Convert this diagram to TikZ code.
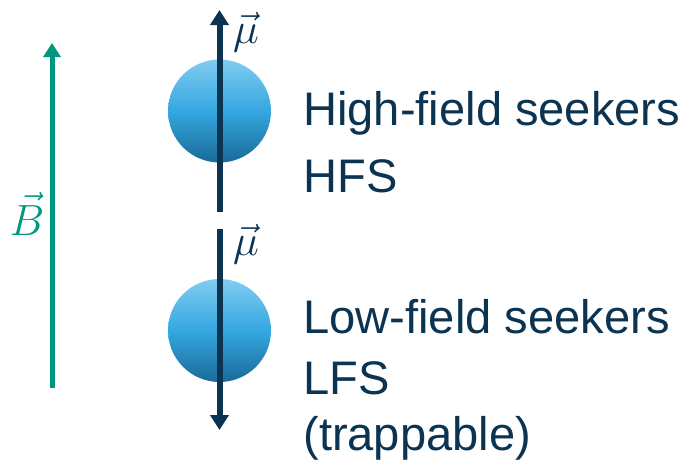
\documentclass[tikz,border=0pt]{standalone}
\usepackage{fontspec}
\setmainfont{Liberation Sans}
\usepackage{amsmath}
\usetikzlibrary{arrows.meta}
\definecolor{navy}{HTML}{0B3352}
\definecolor{fieldteal}{HTML}{00977F}
\definecolor{ballhi}{HTML}{80CCF0}
\definecolor{ballmid}{HTML}{35A7E1}
\definecolor{balllo}{HTML}{1A6A98}

\begin{document}
\begin{tikzpicture}[x=0.02cm,y=-0.02cm,
		moment/.style={-{Triangle[length=0.3cm,width=0.36cm]},draw=navy,line width=0.12cm},
		field/.style={-{Triangle[length=0.28cm,width=0.34cm]},draw=fieldteal,line width=0.1cm},
		ball/.style={circle,minimum size=2.06cm,inner sep=0pt,top color=ballhi,bottom color=balllo,middle color=ballmid},
		txt/.style={anchor=base west,inner sep=0pt,text=navy,font=\fontsize{26.8}{32}\selectfont},
		vlabel/.style={anchor=base,inner sep=0pt,font=\fontsize{27}{30}\selectfont}]
	\useasboundingbox (0,0) rectangle (689,471);
	% magnetic field
	\coordinate (b0) at (52,388);
	\coordinate (b1) at (52,43);
	\draw[field] (b0) -- (b1);
	\node[vlabel,text=fieldteal] (blab) at (27,235) {$\vec{B}$};
	% the two atoms
	\node[ball] (hfs) at (219.5,111) {};
	\node[ball] (lfs) at (219.5,330.5) {};
	\coordinate (h0) at (219.5,212);
	\coordinate (h1) at (219.5,10);
	\coordinate (l0) at (219.5,229);
	\coordinate (l1) at (219.5,430);
	\draw[moment] (h0) -- (h1);
	\draw[moment] (l0) -- (l1);
	\node[vlabel,text=navy] (hmu) at (246,43) {$\vec{\mu}$};
	\node[vlabel,text=navy] (lmu) at (246,255) {$\vec{\mu}$};
	% labels
	\node[txt] (h1txt) at (303,125) {High-field seekers};
	\node[txt] (h2txt) at (303,192) {HFS};
	\node[txt] (l1txt) at (303,333) {Low-field seekers};
	\node[txt] (l2txt) at (303,394) {LFS};
	\node[txt] (l3txt) at (303,450) {(trappable)};
\end{tikzpicture}
\end{document}
